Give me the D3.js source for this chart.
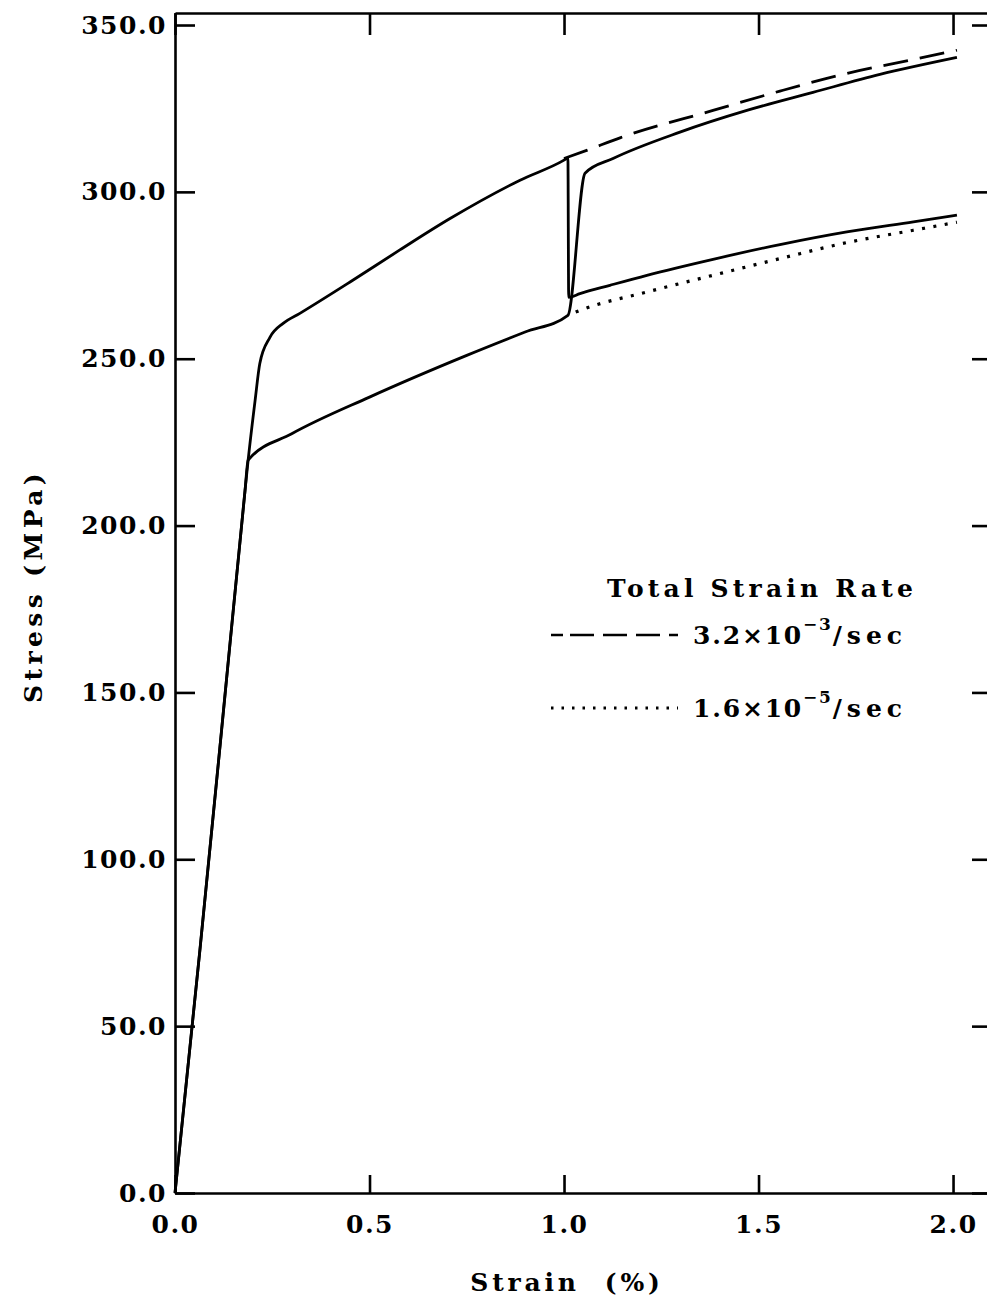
<!DOCTYPE html>
<html>
<head>
<meta charset="utf-8">
<script src="https://cdn.jsdelivr.net/npm/d3@7"></script>
<style>
  body { margin: 0; background: #fff; }
  text { font-family: "DejaVu Serif", serif; fill: #000; }
</style>
</head>
<body>
<div id="chart"></div>
<script>
// Strain (%) / stress (MPa)

// fast rate up to 1.0 %, then switched to slow rate
var fastSlowStrain = [0, 0.064, 0.12, 0.18, 0.188, 0.206, 0.218, 0.244, 0.278, 0.321, 0.45, 0.578, 0.707, 0.887, 1.0, 1.01,
    1.012, 1.041, 1.118, 1.213, 1.383, 1.555, 1.727, 1.898, 2.01];
var fastSlowStress = [0, 72.8, 139, 210.5, 219.6, 237.6, 248.6, 256.4, 260.6, 263.6, 273, 282.6, 292, 303.5, 309.5, 310.2,
    268.4, 269.5, 272, 275, 279.8, 284.2, 288, 291, 293];

// slow rate up to 1.0 %, then switched to fast rate
var slowFastStrain = [0, 0.064, 0.12, 0.18, 0.188, 0.3, 0.5, 0.75, 0.9, 1.01,
    1.054, 1.126, 1.298, 1.47, 1.64, 1.812, 2.01];
var slowFastStress = [0, 72.8, 139, 210.5, 219.6, 227.5, 238.5, 251, 258, 263,
    305.6, 310, 317.9, 324.4, 329.8, 335.2, 340.3];

// continuation at constant fast rate (dashed)
var fastStrain = [1.0, 1.06, 1.144, 1.383, 1.555, 1.727, 1.898, 2.01];
var fastStress = [310, 312.5, 316.2, 324.4, 330.2, 335.5, 339.7, 342.5];

// continuation at constant slow rate (dotted)
var slowStrain = [1.03, 1.041, 1.213, 1.383, 1.555, 1.727, 1.898, 2.01];
var slowStress = [264, 264.5, 270, 275, 280, 284.8, 288.5, 290.9];

var xTicks = [0, 0.5, 1.0, 1.5, 2.0];
var yTicks = [0, 50, 100, 150, 200, 250, 300, 350];

var legendTitle = "Total Strain Rate";
var legendBase = ["3.2\u00d710", "1.6\u00d710"];
var legendExp = ["\u2212", "\u2212"];
var legendExpDigit = ["3", "5"];
var legendUnit = "/sec";

// Set up dimensions
var width = 987, height = 1301;
var plotLeft = 175, plotRight = 990, plotTop = 13, plotBottom = 1193;

var svg = d3.select("#chart")
    .append("svg")
    .attr("width", width)
    .attr("height", height);

var x = d3.scaleLinear()
    .domain([0, 2.095])
    .range([plotLeft, plotRight]);

var y = d3.scaleLinear()
    .domain([0, 353.6])
    .range([plotBottom, plotTop]);

var fmt = d3.format(".1f");

// Axes, ticks pointing inward
var xAxis = svg.append("g")
    .attr("transform", "translate(0," + plotBottom + ")")
    .call(d3.axisBottom(x).tickValues(xTicks).tickFormat(fmt)
        .tickSizeInner(-18).tickSizeOuter(0).tickPadding(22));

var yAxis = svg.append("g")
    .attr("transform", "translate(" + plotLeft + ",0)")
    .call(d3.axisLeft(y).tickValues(yTicks).tickFormat(fmt)
        .tickSizeInner(-20).tickSizeOuter(0).tickPadding(8));

var topAxis = svg.append("g")
    .attr("transform", "translate(0," + plotTop + ")")
    .call(d3.axisTop(x).tickValues(xTicks).tickFormat("")
        .tickSizeInner(-22).tickSizeOuter(0));

var rightAxis = svg.append("g")
    .attr("transform", "translate(" + plotRight + ",0)")
    .call(d3.axisRight(y).tickValues(yTicks).tickFormat("")
        .tickSizeInner(-18).tickSizeOuter(0));

[xAxis, yAxis, topAxis, rightAxis].forEach(function(g) {
    g.selectAll("path, line").attr("stroke", "#000").attr("stroke-width", 2.6);
    g.selectAll("text")
        .style("font-size", "25px")
        .style("font-weight", "bold")
        .style("letter-spacing", "1.5px");
});

// Axis titles
svg.append("text")
    .attr("x", 567)
    .attr("y", 1291)
    .attr("text-anchor", "middle")
    .style("font-size", "25px")
    .style("font-weight", "bold")
    .style("letter-spacing", "3.8px")
    .style("white-space", "pre")
    .text("Strain  (%)");

svg.append("text")
    .attr("transform", "rotate(-90)")
    .attr("x", -586)
    .attr("y", 42)
    .attr("text-anchor", "middle")
    .style("font-size", "25px")
    .style("font-weight", "bold")
    .style("letter-spacing", "4.4px")
    .text("Stress (MPa)");

// Curves
var line = d3.line()
    .curve(d3.curveMonotoneX)
    .x(d => x(d[0]))
    .y(d => y(d[1]));

function pairs(xs, ys) {
    return xs.map((v, i) => [v, ys[i]]);
}

var curves = [
    {pts: pairs(fastSlowStrain, fastSlowStress), dash: null},
    {pts: pairs(slowFastStrain, slowFastStress), dash: null},
    {pts: pairs(fastStrain, fastStress), dash: "25,12"},
    {pts: pairs(slowStrain, slowStress), dash: "3,8.5"}
];

svg.append("g")
    .selectAll("path")
    .data(curves)
    .enter()
    .append("path")
    .attr("d", d => line(d.pts))
    .attr("fill", "none")
    .attr("stroke", "#000")
    .attr("stroke-width", d => d.dash === "3,8.5" ? 3.2 : 2.8)
    .attr("stroke-linejoin", "round")
    .attr("stroke-dasharray", d => d.dash);

// Legend
var legend = svg.append("g");

legend.append("text")
    .attr("x", 607)
    .attr("y", 597)
    .style("font-size", "25px")
    .style("font-weight", "bold")
    .style("letter-spacing", "4.2px")
    .text(legendTitle);

var legendRows = [
    {y: 644, dash: "12,7,24,9,24,9,24,9", stroke: 2.6},
    {y: 717, dash: "2.5,8", stroke: 3}
];

legendRows.forEach((row, i) => {
    legend.append("line")
        .attr("x1", 551)
        .attr("x2", 678)
        .attr("y1", row.y - 9)
        .attr("y2", row.y - 9)
        .attr("stroke", "#000")
        .attr("stroke-width", row.stroke)
        .attr("stroke-dasharray", row.dash);

    var t = legend.append("text")
        .attr("x", 693)
        .attr("y", row.y)
        .style("font-size", "25px")
        .style("font-weight", "bold")
        .style("letter-spacing", "1.8px");
    t.append("tspan").text(legendBase[i]);
    t.append("tspan")
        .attr("dy", -14)
        .style("font-size", "17px")
        .text(legendExp[i] + legendExpDigit[i]);
    t.append("tspan")
        .attr("dy", 14)
        .style("letter-spacing", "5px")
        .text(legendUnit);
});
</script>
</body>
</html>
